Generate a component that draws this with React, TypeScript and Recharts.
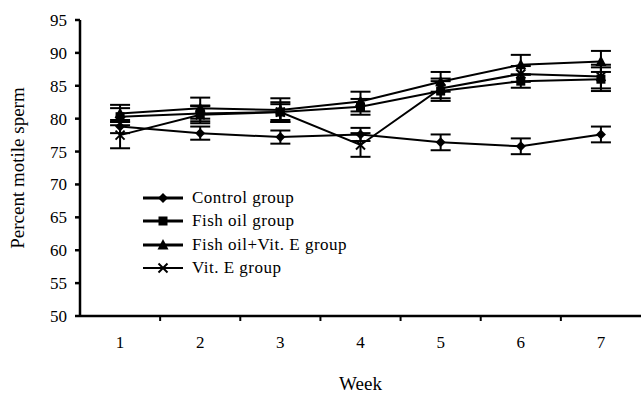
import React from 'react'
import { LineChart, Line, XAxis, YAxis, ErrorBar } from 'recharts'

const weeks = [1, 2, 3, 4, 5, 6, 7]
const controlMean = [78.8, 77.8, 77.2, 77.6, 76.4, 75.8, 77.6]
const controlErr = [1.0, 1.0, 1.0, 1.0, 1.2, 1.2, 1.2]
const fishOilMean = [80.3, 80.8, 81.0, 81.8, 84.2, 85.7, 86.0]
const fishOilErr = [1.3, 1.2, 1.5, 1.2, 1.5, 1.0, 1.8]
const fishVitEMean = [80.8, 81.6, 81.3, 82.6, 85.6, 88.2, 88.7]
const fishVitEErr = [1.3, 1.6, 1.8, 1.5, 1.5, 1.5, 1.6]
const vitEMean = [77.5, 80.6, 81.0, 76.0, 84.6, 86.8, 86.4]
const vitEErr = [2.0, 1.3, 1.2, 1.8, 1.5, 1.2, 1.8]
const yTicks = [50, 55, 60, 65, 70, 75, 80, 85, 90, 95]

const data = weeks.map((w, i) => ({
  week: w,
  control: controlMean[i], controlE: controlErr[i],
  fish: fishOilMean[i], fishE: fishOilErr[i],
  fishVitE: fishVitEMean[i], fishVitEE: fishVitEErr[i],
  vitE: vitEMean[i], vitEE: vitEErr[i],
}))

const FONT = "'Liberation Serif', 'DejaVu Serif', serif"
const W = 641
const H = 393
const LEFT = 80
const BAND = (W - LEFT) / weeks.length

type Kind = 'diamond' | 'square' | 'triangle' | 'cross'

function Marker({ kind, cx, cy }: { kind: Kind; cx: number; cy: number }) {
  if (kind === 'diamond') {
    return <polygon points={`${cx},${cy - 5} ${cx + 5},${cy} ${cx},${cy + 5} ${cx - 5},${cy}`} fill="#000" />
  }
  if (kind === 'square') {
    return <rect x={cx - 4.5} y={cy - 4.5} width={9} height={9} fill="#000" />
  }
  if (kind === 'triangle') {
    return <polygon points={`${cx},${cy - 6} ${cx + 5.5},${cy + 4.5} ${cx - 5.5},${cy + 4.5}`} fill="#000" />
  }
  return (
    <g stroke="#000" strokeWidth={2}>
      <line x1={cx - 4.5} y1={cy - 4.5} x2={cx + 4.5} y2={cy + 4.5} />
      <line x1={cx - 4.5} y1={cy + 4.5} x2={cx + 4.5} y2={cy - 4.5} />
    </g>
  )
}

const dotOf = (kind: Kind) => (props: any) => (
  <Marker key={`${kind}-${props.index}`} kind={kind} cx={props.cx} cy={props.cy} />
)

const legendItems: { label: string; kind: Kind; thin?: boolean }[] = [
  { label: 'Control group', kind: 'diamond' },
  { label: 'Fish oil group', kind: 'square' },
  { label: 'Fish oil+Vit. E group', kind: 'triangle' },
  { label: 'Vit. E group', kind: 'cross', thin: true },
]

// legend sits inside the plot, so it's drawn as an overlay instead of <Legend>
function LegendBox() {
  return (
    <div style={{ position: 'absolute', left: 142, top: 186, fontFamily: FONT, fontSize: 17, letterSpacing: 0.5, color: '#000' }}>
      {legendItems.map((it) => (
        <div key={it.label} style={{ display: 'flex', alignItems: 'center', height: 23.5 }}>
          <svg width={42} height={14} style={{ marginRight: 8 }}>
            <line x1={1} y1={7} x2={41} y2={7} stroke="#000" strokeWidth={it.thin ? 2 : 3} />
            <Marker kind={it.kind} cx={21} cy={7} />
          </svg>
          <span style={{ whiteSpace: 'nowrap' }}>{it.label}</span>
        </div>
      ))}
    </div>
  )
}

function WeekTick(props: any) {
  const { x, y, payload } = props
  const last = payload.value === weeks[weeks.length - 1]
  return (
    <g>
      {!last && <line x1={x + BAND / 2} y1={y - 10} x2={x + BAND / 2} y2={y - 5} stroke="#000" strokeWidth={2} />}
      <text x={x} y={y + 22} textAnchor="middle" fontFamily={FONT} fontSize={17} fill="#000">
        {payload.value}
      </text>
    </g>
  )
}

export default function App() {
  return (
    <div style={{ position: 'absolute', left: 0, top: 0, width: W, height: H, background: '#fff' }}>
      <LineChart width={W} height={H} data={data} margin={{ top: 20, right: 0, bottom: 0, left: 0 }}>
        <XAxis
          dataKey="week"
          type="number"
          domain={[0.5, 7.5]}
          ticks={weeks}
          height={77}
          stroke="#000"
          strokeWidth={2.5}
          tickLine={false}
          tickSize={0}
          tickMargin={10}
          tick={<WeekTick />}
          label={{ value: 'Week', position: 'insideBottom', offset: 3, style: { fontFamily: FONT, fontSize: 19, fill: '#000' } }}
        />
        <YAxis
          domain={[50, 95]}
          ticks={yTicks}
          interval={0}
          width={LEFT}
          stroke="#000"
          strokeWidth={2.5}
          tickSize={5}
          tickMargin={8}
          tick={{ fontFamily: FONT, fontSize: 17, fill: '#000' }}
          label={{ value: 'Percent motile sperm', angle: -90, position: 'insideLeft', offset: 17, style: { textAnchor: 'middle', fontFamily: FONT, fontSize: 19, fill: '#000' } }}
        />
        <Line dataKey="control" stroke="#000" strokeWidth={2} dot={dotOf('diamond')} isAnimationActive={false}>
          <ErrorBar dataKey="controlE" width={10} stroke="#000" strokeWidth={2} direction="y" />
        </Line>
        <Line dataKey="fish" stroke="#000" strokeWidth={2} dot={dotOf('square')} isAnimationActive={false}>
          <ErrorBar dataKey="fishE" width={10} stroke="#000" strokeWidth={2} direction="y" />
        </Line>
        <Line dataKey="fishVitE" stroke="#000" strokeWidth={2} dot={dotOf('triangle')} isAnimationActive={false}>
          <ErrorBar dataKey="fishVitEE" width={10} stroke="#000" strokeWidth={2} direction="y" />
        </Line>
        <Line dataKey="vitE" stroke="#000" strokeWidth={2} dot={dotOf('cross')} isAnimationActive={false}>
          <ErrorBar dataKey="vitEE" width={10} stroke="#000" strokeWidth={2} direction="y" />
        </Line>
      </LineChart>
      <LegendBox />
    </div>
  )
}
